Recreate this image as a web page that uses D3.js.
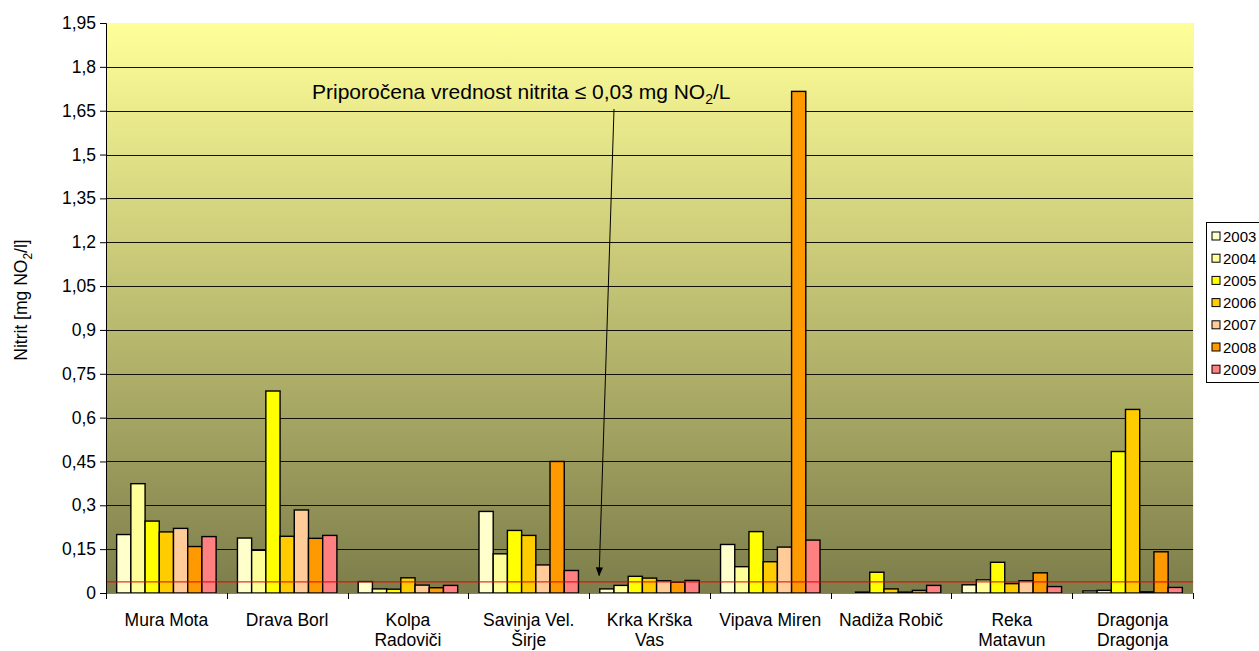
<!DOCTYPE html>
<html>
<head>
<meta charset="utf-8">
<script src="https://cdn.jsdelivr.net/npm/d3@7"></script>
<style>
  body { margin: 0; background: #fff; }
  svg { font-family: "Liberation Sans", Arial, sans-serif; }
</style>
</head>
<body>
<div id="chart"></div>
<script>
const stations = ['Mura Mota', 'Drava Borl', 'Kolpa Radoviči', 'Savinja Vel. Širje', 'Krka Krška Vas',
    'Vipava Miren', 'Nadiža Robič', 'Reka Matavun', 'Dragonja Dragonja'];
const stationLines = [['Mura Mota'], ['Drava Borl'], ['Kolpa', 'Radoviči'], ['Savinja Vel.', 'Širje'],
    ['Krka Krška', 'Vas'], ['Vipava Miren'], ['Nadiža Robič'], ['Reka', 'Matavun'], ['Dragonja', 'Dragonja']];
const years = ['2003', '2004', '2005', '2006', '2007', '2008', '2009'];

const v2003 = [0.200, 0.188, 0.039, 0.279, 0.014, 0.166, 0.000, 0.028, 0.007];
const v2004 = [0.374, 0.146, 0.014, 0.134, 0.026, 0.090, 0.003, 0.045, 0.009];
const v2005 = [0.246, 0.691, 0.013, 0.214, 0.057, 0.210, 0.071, 0.105, 0.484];
const v2006 = [0.209, 0.194, 0.052, 0.197, 0.051, 0.107, 0.014, 0.032, 0.628];
const v2007 = [0.221, 0.284, 0.027, 0.096, 0.042, 0.157, 0.003, 0.042, 0.004];
const v2008 = [0.159, 0.187, 0.018, 0.450, 0.037, 1.716, 0.009, 0.069, 0.141];
const v2009 = [0.193, 0.197, 0.026, 0.077, 0.043, 0.181, 0.026, 0.022, 0.019];
const seriesValues = [v2003, v2004, v2005, v2006, v2007, v2008, v2009];

const yTicks = [0, 0.15, 0.3, 0.45, 0.6, 0.75, 0.9, 1.05, 1.2, 1.35, 1.5, 1.65, 1.8, 1.95];
const limitValue = 0.038; // drawn red line
const annotation = 'Priporočena vrednost nitrita ≤ 0,03 mg NO';

const colors = ['#FFFFCC', '#FFFF99', '#FFFF00', '#FFCC00', '#FFCC99', '#FF9900', '#FF8080'];

const width = 1259, height = 651;
const margin = {left: 106, right: 66, top: 23, bottom: 58};
const innerW = width - margin.left - margin.right;
const innerH = height - margin.top - margin.bottom;

const svg = d3.select('#chart').append('svg')
    .attr('width', width)
    .attr('height', height);

const defs = svg.append('defs');
const grad = defs.append('linearGradient')
    .attr('id', 'bg').attr('x1', 0).attr('y1', 0).attr('x2', 0).attr('y2', 1);
grad.append('stop').attr('offset', '0%').attr('stop-color', '#FFFF99');
grad.append('stop').attr('offset', '100%').attr('stop-color', '#7D7D4B');

defs.append('marker')
    .attr('id', 'arrow')
    .attr('viewBox', '0 0 10 10')
    .attr('refX', 9).attr('refY', 5)
    .attr('markerWidth', 9).attr('markerHeight', 9)
    .attr('markerUnits', 'userSpaceOnUse')
    .attr('orient', 'auto')
    .append('path')
    .attr('d', 'M0,1 L10,5 L0,9 z')
    .attr('fill', '#000');

const g = svg.append('g').attr('transform', `translate(${margin.left},${margin.top})`);

const x0 = d3.scaleBand().domain(stations).range([0, innerW]).padding(0);
const x1 = d3.scaleBand().domain(years).range([0, x0.bandwidth()]).paddingInner(0).paddingOuter(0.75);
const y = d3.scaleLinear().domain([0, 1.95]).range([innerH, 0]);

g.append('rect')
    .attr('width', innerW)
    .attr('height', innerH)
    .attr('fill', 'url(#bg)');

// grid
g.append('g')
    .selectAll('line')
    .data(yTicks.filter(d => d > 0 && d < 1.95))
    .enter()
    .append('line')
    .attr('x1', 0).attr('x2', innerW)
    .attr('y1', d => Math.round(y(d)) + 0.5)
    .attr('y2', d => Math.round(y(d)) + 0.5)
    .attr('stroke', '#111108')
    .attr('stroke-width', 1.2);

g.append('line')
    .attr('x1', innerW + 0.5).attr('x2', innerW + 0.5)
    .attr('y1', 0).attr('y2', innerH)
    .attr('stroke', '#f3f3d0');

// bars
const groups = g.append('g')
    .selectAll('g')
    .data(years)
    .enter()
    .append('g')
    .attr('fill', (d, i) => colors[i]);

groups.selectAll('rect')
    .data((yr, i) => seriesValues[i].map((v, j) => ({yr, v, st: stations[j]})))
    .enter()
    .filter(d => d.v > 0)
    .append('rect')
    .attr('x', d => x0(d.st) + x1(d.yr))
    .attr('y', d => y(d.v))
    .attr('width', x1.bandwidth())
    .attr('height', d => innerH - y(d.v))
    .attr('stroke', '#000')
    .attr('stroke-width', 1.4);

// limit line
g.append('line')
    .attr('x1', 0).attr('x2', innerW)
    .attr('y1', y(limitValue)).attr('y2', y(limitValue))
    .attr('stroke', '#e00000')
    .attr('stroke-width', 1);

// y axis
const yAxis = g.append('g')
    .call(d3.axisLeft(y).tickValues(yTicks).tickSize(6).tickPadding(4)
        .tickFormat(d => String(+d.toFixed(2)).replace('.', ',')));
yAxis.selectAll('text').attr('font-size', 17.5).attr('fill', '#000').attr('font-family', 'Liberation Sans, Arial');
yAxis.selectAll('line').attr('stroke', '#000');
yAxis.select('.domain').attr('stroke', '#000');

// x axis
const xAxis = g.append('g').attr('transform', `translate(0,${innerH})`);
xAxis.append('line')
    .attr('x1', 0).attr('x2', innerW)
    .attr('y1', 0.5).attr('y2', 0.5)
    .attr('stroke', '#808080');
xAxis.selectAll('.tk')
    .data(stations.concat(['end']))
    .enter()
    .append('line')
    .attr('x1', (d, i) => Math.round(i * x0.step()) + 0.5)
    .attr('x2', (d, i) => Math.round(i * x0.step()) + 0.5)
    .attr('y1', 0).attr('y2', 6)
    .attr('stroke', '#000');

xAxis.selectAll('text')
    .data(stations)
    .enter()
    .append('text')
    .attr('text-anchor', 'middle')
    .attr('font-size', 17.5)
    .attr('fill', '#000')
    .attr('transform', d => `translate(${x0(d) + x0.bandwidth() / 2},0)`)
    .each(function(d, i) {
        stationLines[i].forEach((line, k) => {
            d3.select(this).append('tspan')
                .attr('x', 0)
                .attr('y', 33 + k * 19.5)
                .text(line);
        });
    });

// y label
svg.append('text')
    .attr('transform', 'translate(27,300) rotate(-90)')
    .attr('text-anchor', 'middle')
    .attr('font-size', 17.5)
    .attr('fill', '#000')
    .call(t => {
        t.append('tspan').text('Nitrit [mg NO');
        t.append('tspan').attr('font-size', 12).attr('dy', 5).text('2');
        t.append('tspan').attr('dy', -5).text('/l]');
    });

// annotation
const ann = svg.append('text')
    .attr('x', 312)
    .attr('y', 99)
    .attr('font-size', 21)
    .attr('fill', '#000');
ann.append('tspan').text(annotation);
ann.append('tspan').attr('font-size', 14).attr('dy', 5).text('2');
ann.append('tspan').attr('dy', -5).text('/L');

svg.append('line')
    .attr('x1', 614).attr('y1', 109)
    .attr('x2', margin.left + x0('Krka Krška Vas') + 10)
    .attr('y2', margin.top + y(0.06))
    .attr('stroke', '#000')
    .attr('stroke-width', 1)
    .attr('marker-end', 'url(#arrow)');

// legend
const legend = svg.append('g').attr('transform', 'translate(1206,222)');
legend.append('rect')
    .attr('x', 0.5).attr('y', 0.5)
    .attr('width', 60).attr('height', 160)
    .attr('fill', '#fff')
    .attr('stroke', '#000');
const item = legend.selectAll('g')
    .data(years)
    .enter()
    .append('g')
    .attr('transform', (d, i) => `translate(6,${10 + i * 22.2})`);
item.append('rect')
    .attr('width', 8).attr('height', 8)
    .attr('fill', (d, i) => colors[i])
    .attr('stroke', '#000');
item.append('text')
    .attr('x', 11).attr('y', 9.5)
    .attr('font-size', 15)
    .attr('fill', '#000')
    .text(d => d);
</script>
</body>
</html>
